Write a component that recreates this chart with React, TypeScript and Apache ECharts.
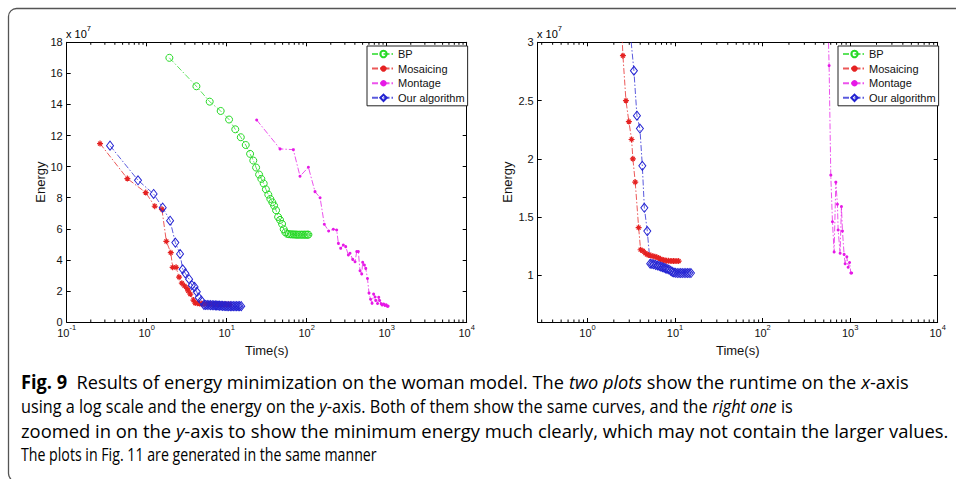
import React, { useEffect, useRef } from 'react';
import * as echarts from 'echarts';

// ---------------- data (energy in units of 1e7, time in seconds) ----------------
const seriesNames = ['BP', 'Mosaicing', 'Montage', 'Our algorithm'];

const bpData: number[][] = [
  [1.92, 17.0], [4.18, 15.17], [6.13, 14.18], [8.41, 13.58], [10.7, 13.03], [12.8, 12.4],
  [15.0, 11.89], [17.3, 11.39], [19.6, 10.82], [21.5, 10.39], [23.3, 9.94], [25.4, 9.49],
  [27.1, 9.21], [29.0, 8.91], [30.9, 8.54], [33.1, 8.2], [35.1, 7.92], [37.2, 7.7],
  [39.1, 7.49], [41.4, 7.19], [43.9, 6.76], [46.4, 6.57], [49.2, 6.31], [51.6, 5.97],
  [54.1, 5.77], [57.3, 5.67], [60, 5.65], [63, 5.64], [66, 5.64], [69, 5.63], [72, 5.63],
  [75, 5.62], [78, 5.62], [82, 5.62], [86, 5.62], [90, 5.62], [94, 5.62], [98, 5.62],
  [102, 5.62], [105, 5.62],
];

const mosaicingData: number[][] = [
  [0.261, 11.48], [0.573, 9.23], [0.972, 8.33], [1.26, 7.45], [1.55, 7.25], [1.76, 5.19],
  [2.0, 4.46], [2.11, 3.52], [2.33, 3.52], [2.54, 2.885], [2.75, 2.5], [2.97, 2.32],
  [3.19, 2.166], [3.3, 2.0], [3.51, 1.8], [3.84, 1.41], [4.04, 1.22], [4.3, 1.21],
  [4.57, 1.19], [4.8, 1.18], [5.0, 1.175], [5.3, 1.17], [5.6, 1.165], [5.9, 1.16],
  [6.2, 1.155], [6.5, 1.15], [6.8, 1.14], [7.1, 1.135], [7.4, 1.13], [7.7, 1.128],
  [8.0, 1.125], [8.4, 1.125], [8.8, 1.124], [9.2, 1.124], [9.6, 1.123], [10.0, 1.123],
  [10.5, 1.123], [11.0, 1.123],
];

const montageData: number[][] = [
  [23.7, 13.0], [46.4, 11.14], [68.1, 11.09], [82.5, 9.38], [105, 9.96], [127, 8.39],
  [147, 8.0], [166, 6.29], [188, 5.86], [215, 5.97], [237, 5.92], [249, 5.06], [266, 4.74],
  [287, 4.96], [307, 4.85], [332, 4.31], [348, 4.42], [376, 4.03], [402, 3.88], [422, 4.53],
  [442, 4.53], [464, 3.3], [487, 3.09], [501, 3.84], [526, 3.67], [547, 3.45], [575, 2.8],
  [601, 1.86], [628, 1.46], [656, 1.2], [686, 1.8], [716, 1.61], [729, 1.39], [768, 1.19],
  [795, 1.59], [817, 1.38], [853, 1.18], [877, 1.1], [916, 1.16], [949, 1.07], [985, 1.11],
  [1018, 1.02], [1040, 1.02],
];

const ourData: number[][] = [
  [0.348, 11.35], [0.779, 9.12], [1.22, 8.24], [1.585, 7.36], [1.96, 6.52], [2.28, 5.11],
  [2.61, 4.38], [2.82, 3.39], [3.04, 3.13], [3.39, 2.756], [3.67, 2.37], [3.97, 2.26],
  [4.23, 1.94], [4.46, 1.58], [4.82, 1.38], [5.2, 1.1], [5.45, 1.098], [5.7, 1.095],
  [6.0, 1.09], [6.3, 1.085], [6.6, 1.08], [6.9, 1.075], [7.2, 1.07], [7.5, 1.065],
  [7.8, 1.06], [8.1, 1.055], [8.5, 1.05], [8.9, 1.04], [9.3, 1.03], [9.7, 1.025],
  [10.1, 1.022], [10.6, 1.02], [11.1, 1.02], [11.6, 1.02], [12.1, 1.02], [12.7, 1.02],
  [13.3, 1.02], [13.9, 1.02], [14.5, 1.02], [15.2, 1.02],
];

// axis ranges
const leftX = [0.1, 10000];
const leftY = [0, 18];
const rightX = [0.27, 10000];
const rightY = [0.6, 3];
const minorMultipliers = [2, 3, 4, 5, 6, 7, 8, 9];
const leftDecades = [0.1, 1, 10, 100, 1000];
const rightDecades = [0.1, 1, 10, 100, 1000];

// caption lines: [style, text]
const captionLines: [string, string][][] = [
  [['b', 'Fig. 9  '], ['n', 'Results of energy minimization on the woman model. The '], ['i', 'two plots '], ['n', 'show the runtime on the '], ['i', 'x'], ['n', '-axis']],
  [['n', 'using a log scale and the energy on the '], ['i', 'y'], ['n', '-axis. Both of them show the same curves, and the '], ['i', 'right one '], ['n', 'is']],
  [['n', 'zoomed in on the '], ['i', 'y'], ['n', '-axis to show the minimum energy much clearly, which may not contain the larger values.']],
  [['n', 'The plots in Fig. '], ['l', '11 '], ['n', 'are generated in the same manner']],
];
const captionY = [381, 405.5, 430, 454];
const captionEnd = [909, 793, 949, 377];

const FONT = '"Liberation Sans", Arial, Helvetica, sans-serif';
const CAP_FAMILY = '"Open Sans"';
const CAP_SIZE = 19;

const COLORS = {
  BP: '#25d925',
  Mosaicing: '#e52222',
  Montage: '#e619e6',
  Our: '#2323d2',
};

export default function App() {
  const ref = useRef<HTMLDivElement>(null);
  useEffect(() => {
    if (!ref.current) return;
    const chart = echarts.init(ref.current, null, { renderer: 'svg' });

    const isPow10 = (v: number) => {
      const l = Math.log10(v);
      return Math.abs(l - Math.round(l)) < 1e-6;
    };
    const xRich = {
      b: { fontSize: 11, fontFamily: FONT, color: '#111', padding: [5, 0, 0, 0] },
      s: { fontSize: 7.5, fontFamily: FONT, color: '#111', padding: [0, 0, 6, 0] },
    };

    const mkXAxis = (grid: number, range: number[], top: boolean) => ({
      type: 'log',
      logBase: 10,
      gridIndex: grid,
      position: top ? 'top' : 'bottom',
      min: range[0],
      max: range[1],
      axisLine: { show: true, onZero: false, lineStyle: { color: '#000', width: 1 } },
      axisTick: { show: true, inside: true, length: 4, lineStyle: { color: '#000' } },
      splitLine: { show: false },
      minorTick: { show: false },
      axisLabel: top
        ? { show: false }
        : {
            show: true,
            margin: 0,
            formatter: (v: number) => {
              if (!isPow10(v)) return '';
              return `{b|10}{s|${Math.round(Math.log10(v))}}`;
            },
            rich: xRich,
          },
      name: top ? '' : 'Time(s)',
      nameLocation: 'middle',
      nameGap: 22,
      nameTextStyle: { fontSize: 13, fontFamily: FONT, color: '#111' },
    });

    const mkYAxis = (grid: number, range: number[], right: boolean, step: number, gap: number) => ({
      type: 'value',
      gridIndex: grid,
      position: right ? 'right' : 'left',
      min: range[0],
      max: range[1],
      ...(range[0] % step === 0 ? { interval: step } : { splitNumber: 5 }),
      axisLine: { show: true, onZero: false, lineStyle: { color: '#000', width: 1 } },
      axisTick: { show: true, inside: true, length: 4, lineStyle: { color: '#000' } },
      splitLine: { show: false },
      axisLabel: right
        ? { show: false }
        : {
            show: true,
            margin: 4,
            fontSize: 11,
            fontFamily: FONT,
            color: '#111',
            formatter: (v: number) => {
              const k = v / step;
              if (Math.abs(k - Math.round(k)) > 1e-6) return '';
              return String(Math.round(v * 100) / 100);
            },
          },
      name: right ? '' : 'Energy',
      nameLocation: 'middle',
      nameGap: gap,
      nameTextStyle: { fontSize: 13, fontFamily: FONT, color: '#111' },
    });

    const dash = [6, 2, 1.5, 2];
    const lineOpacity = 0.75;
    const mkSeries = (xi: number, yi: number) => [
      {
        name: seriesNames[0], type: 'line', xAxisIndex: xi, yAxisIndex: yi, data: bpData,
        symbol: 'circle', symbolSize: 7, showAllSymbol: true,
        lineStyle: { color: COLORS.BP, width: 1, type: dash, opacity: lineOpacity },
        itemStyle: { color: 'rgba(0,0,0,0)', borderColor: COLORS.BP, borderWidth: 1 },
      },
      {
        name: seriesNames[1], type: 'line', xAxisIndex: xi, yAxisIndex: yi, data: mosaicingData,
        symbol: 'path://M0,-4L0,4M-4,0L4,0M-2.6,-2.6L2.6,2.6M-2.6,2.6L2.6,-2.6', symbolSize: 6, showAllSymbol: true,
        lineStyle: { color: COLORS.Mosaicing, width: 1, type: dash, opacity: lineOpacity },
        itemStyle: { color: COLORS.Mosaicing, borderColor: COLORS.Mosaicing, borderWidth: 1.2 },
      },
      {
        name: seriesNames[2], type: 'line', xAxisIndex: xi, yAxisIndex: yi, data: montageData,
        symbol: 'circle', symbolSize: 3, showAllSymbol: true,
        lineStyle: { color: COLORS.Montage, width: 1, type: dash, opacity: lineOpacity },
        itemStyle: { color: COLORS.Montage, borderWidth: 0 },
      },
      {
        name: seriesNames[3], type: 'line', xAxisIndex: xi, yAxisIndex: yi, data: ourData,
        symbol: 'diamond', symbolSize: [7, 9], showAllSymbol: true,
        lineStyle: { color: COLORS.Our, width: 1, type: dash, opacity: lineOpacity },
        itemStyle: { color: 'rgba(0,0,0,0)', borderColor: COLORS.Our, borderWidth: 1 },
      },
    ];

    const minorVals = (decades: number[], range: number[]) => {
      const out: number[][] = [];
      decades.forEach((d) => minorMultipliers.forEach((m) => {
        const v = d * m;
        if (v > range[0] && v < range[1]) out.push([v]);
      }));
      return out;
    };
    const mkMinor = (xi: number, yi: number, vals: number[][], yr: number[]) => ({
      type: 'custom', xAxisIndex: xi, yAxisIndex: yi, silent: true, z: 5,
      data: vals.map((v) => [v[0], yr[0]]),
      encode: { x: 0, y: 1 },
      renderItem: (_p: any, api: any) => {
        const v = api.value(0);
        const b = api.coord([v, yr[0]]);
        const t = api.coord([v, yr[1]]);
        return {
          type: 'group',
          children: [
            { type: 'line', shape: { x1: b[0], y1: b[1], x2: b[0], y2: b[1] - 2.5 }, style: { stroke: '#000', lineWidth: 1 } },
            { type: 'line', shape: { x1: t[0], y1: t[1], x2: t[0], y2: t[1] + 2.5 }, style: { stroke: '#000', lineWidth: 1 } },
          ],
        };
      },
    });

    const mkLegend = (left: number) => ({
      orient: 'vertical',
      left, top: 46,
      data: seriesNames,
      itemWidth: 23, itemHeight: 8, itemGap: 2.6,
      padding: [2, 3, 2, 4],
      backgroundColor: '#fff',
      borderColor: '#222', borderWidth: 1, borderRadius: 0,
      selectedMode: false,
      textStyle: { fontSize: 11, fontFamily: FONT, color: '#111', lineHeight: 12, padding: [0, 0, 0, -2] },
    });

    // caption: each line is stretched horizontally to end where the reference line ends
    const canvas = document.createElement('canvas');
    const ctx = canvas.getContext('2d') as CanvasRenderingContext2D;
    const capStyle: Record<string, any> = {
      n: { fontFamily: CAP_FAMILY, fontSize: CAP_SIZE, color: '#333', fontStyle: 'normal', fontWeight: 'normal' },
      i: { fontFamily: CAP_FAMILY, fontSize: CAP_SIZE, color: '#333', fontStyle: 'italic', fontWeight: 'normal' },
      b: { fontFamily: CAP_FAMILY, fontSize: CAP_SIZE, color: '#222', fontStyle: 'normal', fontWeight: 'bold' },
      l: { fontFamily: CAP_FAMILY, fontSize: CAP_SIZE, color: '#3d5fc4', fontStyle: 'normal', fontWeight: 'normal' },
    };
    const captionGraphics = captionLines.map((segs, li) => {
      let w = 0;
      segs.forEach(([st, txt]) => {
        const s = capStyle[st];
        ctx.font = `${s.fontStyle} ${s.fontWeight} ${s.fontSize}px ${s.fontFamily}`;
        w += ctx.measureText(txt).width;
      });
      const sx = w > 0 ? (captionEnd[li] - 21) / w : 1;
      return {
        type: 'text', x: 21, y: captionY[li], scaleX: sx, silent: true,
        style: {
          text: segs.map(([st, txt]) => `{${st}|${txt}}`).join(''),
          rich: capStyle,
          verticalAlign: 'middle',
          align: 'left',
          fontFamily: CAP_FAMILY,
          fontSize: CAP_SIZE,
        },
      };
    });

    const expRich = {
      a: { fontSize: 11, fontFamily: FONT, color: '#111', padding: [5, 0, 0, 0] },
      s: { fontSize: 7.5, fontFamily: FONT, color: '#111', padding: [0, 0, 6, 0] },
    };

    const option: any = {
      animation: false,
      backgroundColor: '#fff',
      grid: [
        { left: 66.7, top: 42.3, width: 400, height: 279.7, containLabel: false },
        { left: 537.7, top: 42.3, width: 400, height: 279.7, containLabel: false },
      ],
      xAxis: [
        mkXAxis(0, leftX, false),
        mkXAxis(0, leftX, true),
        mkXAxis(1, rightX, false),
        mkXAxis(1, rightX, true),
      ],
      yAxis: [
        mkYAxis(0, leftY, false, 2, 20),
        mkYAxis(0, leftY, true, 2, 0),
        mkYAxis(1, rightY, false, 0.5, 24),
        mkYAxis(1, rightY, true, 0.5, 0),
      ],
      legend: [mkLegend(367), mkLegend(838)],
      series: [
        ...mkSeries(0, 0),
        ...mkSeries(2, 2),
        mkMinor(0, 0, minorVals(leftDecades, leftX), leftY),
        mkMinor(2, 2, minorVals(rightDecades, rightX), rightY),
      ],
      graphic: [
        {
          type: 'rect', silent: true, z: -10,
          shape: { x: 8.5, y: 8.5, width: 1200, height: 473, r: 8 },
          style: { fill: 'none', stroke: '#555', lineWidth: 1.3 },
        },
        {
          type: 'text', x: 66, y: 23, silent: true,
          style: { text: '{a|x 10}{s|7}', rich: expRich, verticalAlign: 'top', align: 'left' },
        },
        {
          type: 'text', x: 537, y: 23, silent: true,
          style: { text: '{a|x 10}{s|7}', rich: expRich, verticalAlign: 'top', align: 'left' },
        },
        ...captionGraphics,
      ],
    };
    chart.setOption(option);
    return () => chart.dispose();
  }, []);

  return (
    <div
      ref={ref}
      style={{ position: 'absolute', left: 0, top: 0, width: 956, height: 479, background: '#fff' }}
    />
  );
}
